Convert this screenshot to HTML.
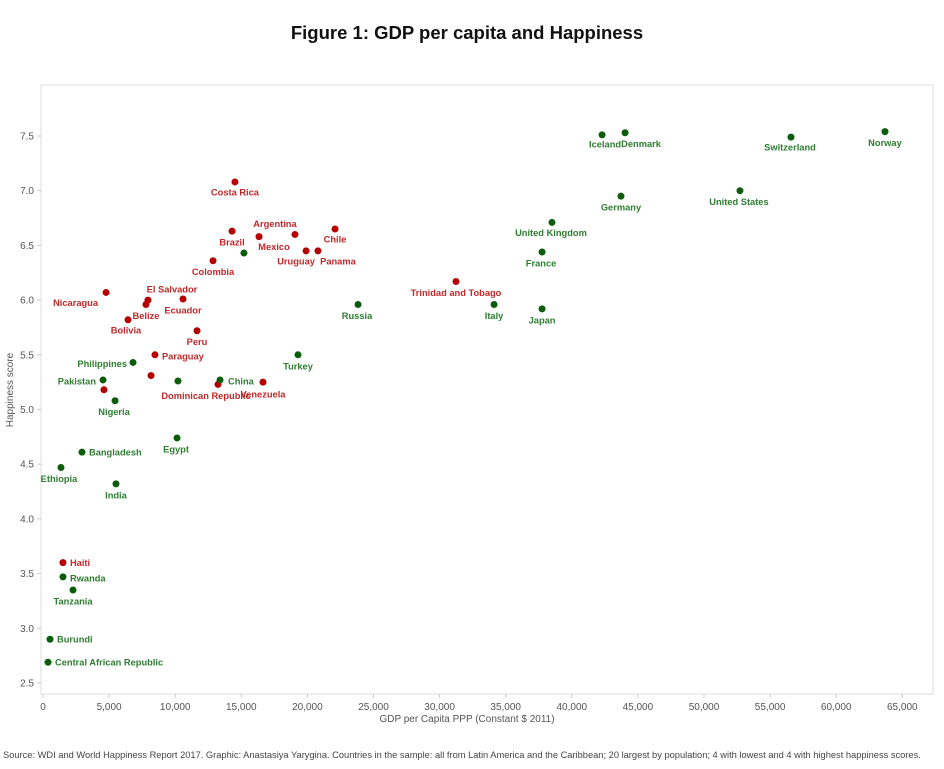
<!DOCTYPE html>
<html><head><meta charset="utf-8"><style>
body{margin:0;background:#fff;font-family:"Liberation Sans",Arial,sans-serif;}
svg{display:block}
</style></head><body>
<svg id="c" width="944" height="769">
<rect x="0" y="0" width="944" height="769" fill="#fff"/>
<text x="467" y="39" text-anchor="middle" font-size="18.5" font-weight="bold" fill="#111">Figure 1: GDP per capita and Happiness</text>
<rect x="41" y="85" width="892" height="609" fill="none" stroke="#ddd"/>
<g id="axes"></g>
<g id="marks"></g>
<text x="467" y="722" text-anchor="middle" font-size="10" fill="#555">GDP per Capita PPP (Constant $ 2011)</text>
<text transform="translate(13,390) rotate(-90)" text-anchor="middle" font-size="10" fill="#555">Happiness score</text>
<text x="3" y="758" font-size="9.3" fill="#444">Source: WDI and World Happiness Report 2017. Graphic: Anastasiya Yarygina. Countries in the sample: all  from Latin America and the Caribbean; 20 largest by population; 4 with lowest and 4 with highest happiness scores.</text>
</svg>
<script>
const names=["Costa Rica","Brazil","Argentina","Mexico","Chile","Uruguay","Panama","Colombia","Nicaragua","El Salvador","Belize","Ecuador","Bolivia","Peru","Paraguay","Guatemala","Dominican Republic","Venezuela","Honduras","Trinidad and Tobago","Haiti",
"Thailand","Iceland","Denmark","Norway","Switzerland","Germany","United States","United Kingdom","France","Italy","Japan","Russia","Turkey","China","Indonesia","Egypt","Philippines","Pakistan","Nigeria","Bangladesh","Ethiopia","India","Rwanda","Tanzania","Burundi","Central African Republic"];
const gdp=[14520,14300,19060,16340,22090,19900,20800,12860,4770,7940,7790,10590,6430,11650,8470,8170,13240,16640,4610,31240,1510,
15200,42290,44030,63690,56580,43720,52720,38500,37750,34120,37750,23830,19290,13390,10210,10140,6810,4540,5450,2950,1360,5520,1510,2270,530,380];
const happiness=[7.08,6.63,6.60,6.58,6.65,6.45,6.45,6.36,6.07,6.00,5.96,6.01,5.82,5.72,5.50,5.31,5.23,5.25,5.18,6.17,3.60,
6.43,7.51,7.53,7.54,7.49,6.95,7.00,6.71,6.44,5.96,5.92,5.96,5.50,5.27,5.26,4.74,5.43,5.27,5.08,4.61,4.47,4.32,3.47,3.35,2.90,2.69];
const group=["L","L","L","L","L","L","L","L","L","L","L","L","L","L","L","L","L","L","L","L","L",
"O","O","O","O","O","O","O","O","O","O","O","O","O","O","O","O","O","O","O","O","O","O","O","O","O","O"];
const showLabel=[1,1,1,1,1,1,1,1,1,1,1,1,1,1,1,0,1,1,0,1,1,0,1,1,1,1,1,1,1,1,1,1,1,1,1,0,1,1,1,1,1,1,1,1,1,1,1];
const xTicks=[0,5000,10000,15000,20000,25000,30000,35000,40000,45000,50000,55000,60000,65000];
const yTicks=[2.5,3.0,3.5,4.0,4.5,5.0,5.5,6.0,6.5,7.0,7.5];
// label placement (style): [dx,dy,anchor]
const lp={"Costa Rica":[0,10,"m"],"Brazil":[0,11,"m"],"Argentina":[-20,-11,"m"],"Mexico":[15,10,"m"],"Chile":[0,10,"m"],"Uruguay":[-10,10,"m"],"Panama":[20,10,"m"],"Colombia":[0,11,"m"],"Nicaragua":[-8,10,"e"],"El Salvador":[24,-11,"m"],"Belize":[0,11,"m"],"Ecuador":[0,11,"m"],"Bolivia":[-2,10,"m"],"Peru":[0,11,"m"],"Paraguay":[7,1,"s"],"Dominican Republic":[-12,11,"m"],"Venezuela":[0,12,"m"],"Trinidad and Tobago":[0,11,"m"],"Haiti":[7,0,"s"],
"Iceland":[3,9,"m"],"Denmark":[16,11,"m"],"Norway":[0,11,"m"],"Switzerland":[-1,10,"m"],"Germany":[0,11,"m"],"United States":[-1,11,"m"],"United Kingdom":[-1,10,"m"],"France":[-1,11,"m"],"Italy":[0,11,"m"],"Japan":[0,11,"m"],"Russia":[-1,11,"m"],"Turkey":[0,11,"m"],"China":[8,1,"s"],"Egypt":[-1,11,"m"],"Philippines":[-6,1,"e"],"Pakistan":[-7,1,"e"],"Nigeria":[-1,11,"m"],"Bangladesh":[7,0,"s"],"Ethiopia":[-2,11,"m"],"India":[0,11,"m"],"Rwanda":[7,1,"s"],"Tanzania":[0,11,"m"],"Burundi":[7,0,"s"],"Central African Republic":[7,0,"s"]};
const X=v=>43+v/5000*66.1;
const Y=v=>136+(7.5-v)*109.4;
const ns="http://www.w3.org/2000/svg";
function mk(t,a,p){const e=document.createElementNS(ns,t);for(const k in a)e.setAttribute(k,a[k]);p.appendChild(e);return e;}
const ax=document.getElementById('axes');
xTicks.forEach(v=>{
 const t=mk('text',{x:X(v),y:710,'text-anchor':'middle','font-size':10,fill:'#555'},ax);
 
 
 t.textContent=v.toLocaleString('en-US');
 mk('line',{x1:X(v),x2:X(v),y1:694,y2:698,stroke:'#ccc'},ax);
});
yTicks.forEach(v=>{
 const t=mk('text',{x:34,y:Y(v)+3.5,'text-anchor':'end','font-size':10,fill:'#555'},ax);
 
 
 t.textContent=v.toFixed(1);
 mk('line',{x1:37,x2:41,y1:Y(v),y2:Y(v),stroke:'#ccc'},ax);
});
const mg=document.getElementById('marks');
names.forEach((n,i)=>{
 const x=X(gdp[i]),y=Y(happiness[i]);
 const L=group[i]==="L";
 const c=mk('circle',{cx:x,cy:y,r:3.5,fill:L?'#b40000':'#0b5d0b'},mg);
 
 
 if(showLabel[i]){
  const p=lp[n]||[0,11,"m"];
  const t=mk('text',{x:x+p[0],y:y+p[1]+3.5,'text-anchor':p[2]==="m"?"middle":(p[2]==="e"?"end":"start"),'font-size':9.3,'font-weight':'bold',fill:L?'#c0282a':'#2e7d32'},mg);
  
  
  t.textContent=n;
 }
});
</script>
</body></html>
